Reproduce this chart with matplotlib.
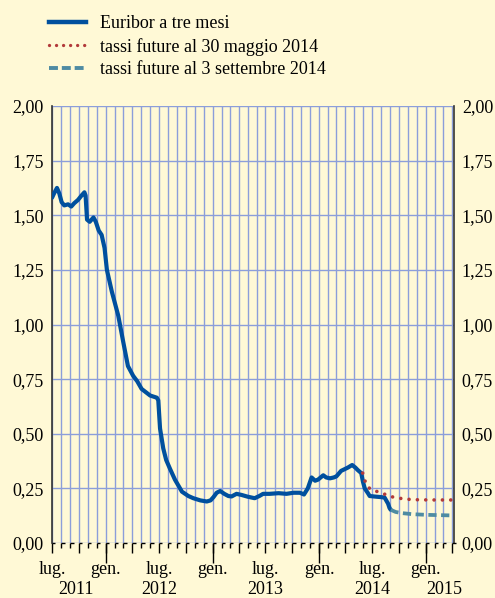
import matplotlib
matplotlib.use("Agg")
import matplotlib.pyplot as plt
import matplotlib.dates as mdates
import matplotlib.transforms as mtrans
from matplotlib.lines import Line2D
import numpy as np
import datetime as dt

# ---------------- data ----------------
euribor_dates = ["2011-07-01","2011-07-08","2011-07-18","2011-07-26","2011-08-03","2011-08-12","2011-08-25",
    "2011-09-05","2011-09-15","2011-09-28","2011-10-10","2011-10-20","2011-10-24","2011-10-29","2011-11-07",
    "2011-11-20","2011-11-28","2011-12-08","2011-12-18","2011-12-28","2012-01-05","2012-01-22","2012-02-13",
    "2012-03-01","2012-03-17","2012-04-04","2012-04-18","2012-05-03","2012-06-01","2012-06-24","2012-06-29",
    "2012-07-05","2012-07-16","2012-07-26","2012-08-08","2012-08-25","2012-09-18","2012-10-10","2012-10-27",
    "2012-11-20","2012-12-12","2012-12-25","2013-01-04","2013-01-15","2013-01-27","2013-02-10","2013-02-24",
    "2013-03-07","2013-03-24","2013-04-10","2013-05-01","2013-05-25","2013-06-10","2013-06-23","2013-07-15",
    "2013-08-15","2013-09-11","2013-10-05","2013-10-27","2013-11-10","2013-11-23","2013-12-06","2013-12-18",
    "2013-12-28","2014-01-15","2014-01-25","2014-02-07","2014-02-20","2014-03-01","2014-03-17","2014-04-09",
    "2014-04-24","2014-05-05","2014-05-13","2014-05-25","2014-05-31","2014-06-06","2014-06-17","2014-06-23",
    "2014-07-15","2014-08-01","2014-08-13","2014-08-25","2014-08-30","2014-09-03"]
euribor_values = [1.58,1.60,1.625,1.60,1.56,1.545,1.55,
    1.54,1.555,1.57,1.59,1.605,1.59,1.48,1.47,
    1.49,1.47,1.43,1.41,1.35,1.25,1.15,1.04,
    0.92,0.81,0.765,0.74,0.705,0.675,0.665,0.653,
    0.524,0.433,0.38,0.34,0.29,0.235,0.215,0.205,
    0.195,0.19,0.195,0.21,0.23,0.238,0.225,0.215,
    0.213,0.225,0.22,0.212,0.205,0.215,0.225,0.225,
    0.228,0.225,0.23,0.23,0.222,0.25,0.30,0.285,
    0.29,0.31,0.30,0.296,0.30,0.305,0.33,0.345,
    0.357,0.345,0.334,0.32,0.28,0.25,0.228,0.215,
    0.212,0.21,0.208,0.18,0.16,0.152]

fut_may_dates = ["2014-05-30","2014-06-08","2014-06-18","2014-07-01","2014-07-20","2014-08-10","2014-09-05",
    "2014-10-01","2014-11-01","2014-12-01","2015-01-15","2015-04-05"]
fut_may_values = [0.32,0.28,0.255,0.242,0.235,0.225,0.212,0.205,0.20,0.198,0.197,0.197]

fut_sep_dates = ["2014-09-03","2014-09-20","2014-10-10","2014-11-15","2015-01-01","2015-04-05"]
fut_sep_values = [0.152,0.142,0.137,0.132,0.129,0.126]

series_labels = ["Euribor a tre mesi", "tassi future al 30 maggio 2014", "tassi future al 3 settembre 2014"]
y_ticks = [0.0, 0.25, 0.5, 0.75, 1.0, 1.25, 1.5, 1.75, 2.0]
month_names = {1: "gen.", 7: "lug."}
year_labels = ["2011", "2012", "2013", "2014", "2015"]
year_label_dates = ["2011-09-21", "2012-07-01", "2013-07-01", "2014-07-01", "2015-03-05"]

# ---------------- style ----------------
BG = "#FFF9D6"
GRID = "#8C9EDA"
BLUE = "#00509E"
RED = "#B23A3A"
TEAL = "#4E8BA3"
FONT = "Liberation Serif"
FS = 13

plt.rcParams["font.family"] = [FONT, "DejaVu Serif"]

def todate(s):
    return dt.datetime.strptime(s, "%Y-%m-%d")

W, H = 495, 598
fig = plt.figure(figsize=(W / 100, H / 100), dpi=100, facecolor=BG)
ax = fig.add_axes([52 / W, (H - 543) / H, (453.5 - 52) / W, (543 - 106) / H], facecolor=BG)

x0 = dt.datetime(2011, 7, 1)
x1 = dt.datetime(2015, 4, 6)
ax.set_xlim(x0, x1)
ax.set_ylim(0, 2.0)

# grid: monthly verticals, 0.25 horizontals
ax.xaxis.set_minor_locator(mdates.MonthLocator())
ax.xaxis.set_major_locator(mdates.MonthLocator(bymonth=[1, 4, 7, 10]))
ax.grid(True, which="both", axis="x", color=GRID, lw=1.0, zorder=0)
ax.set_yticks(y_ticks)
ax.grid(True, which="major", axis="y", color=GRID, lw=1.0, zorder=0)
ax.set_axisbelow(True)

def fmt(x, pos=None):
    d = mdates.num2date(x)
    return month_names.get(d.month, "")
ax.xaxis.set_major_formatter(plt.FuncFormatter(fmt))
ax.tick_params(axis="x", which="major", length=7.2, width=1.0, color="black", pad=5.5,
               labelsize=FS, direction="out")
ax.tick_params(axis="x", which="minor", length=3.6, width=1.0, color="black", direction="out")

ylab = [f"{v:.2f}".replace(".", ",") for v in y_ticks]
ax.set_yticklabels(ylab)
ax.tick_params(axis="y", length=0, labelsize=FS, pad=6, labelright=True, labelleft=True)

for s in ["left", "right"]:
    ax.spines[s].set_color("#333333")
    ax.spines[s].set_linewidth(1.2)
ax.spines["top"].set_visible(False)
ax.spines["bottom"].set_visible(False)

# January long ticks
sec = ax.secondary_xaxis("bottom")
sec.xaxis.set_major_locator(mdates.MonthLocator(bymonth=[1]))
sec.xaxis.set_major_formatter(plt.NullFormatter())
sec.tick_params(length=14.5, width=1.0, color="black")
sec.spines["bottom"].set_visible(False)

# hooks at month ticks
trans_hook = mtrans.blended_transform_factory(ax.transData, ax.transAxes)
months = mdates.drange(x0, x1, dt.timedelta(days=1))
month_starts = [mdates.num2date(m) for m in months if mdates.num2date(m).day == 1]
hook_dx = 3.5 * 30.44 / 8.89  # ~3.5 px in days
for m in month_starts:
    mn = mdates.date2num(m)
    ax.plot([mn, mn + hook_dx], [0, 0], color="black", lw=1.0, transform=trans_hook,
            clip_on=False, zorder=3, solid_capstyle="butt")

# lines
ed = [todate(d) for d in euribor_dates]
ax.plot(ed, euribor_values, color=BLUE, lw=3.0, solid_joinstyle="round", solid_capstyle="round", zorder=4)
md = [todate(d) for d in fut_may_dates]
ax.plot(md, fut_may_values, color=RED, lw=2.6, linestyle=(0, (0.01, 2.3)), dash_capstyle="round", zorder=5)
sd = [todate(d) for d in fut_sep_dates]
ax.plot(sd, fut_sep_values, color=TEAL, lw=2.7, linestyle=(0, (2.2, 1.2)), dash_capstyle="butt", zorder=5)

# year labels
ytrans = mtrans.blended_transform_factory(ax.transData, fig.transFigure)
for lab, d in zip(year_labels, year_label_dates):
    ax.text(todate(d), 1 - 590 / H, lab, transform=ytrans, ha="center", va="center", fontsize=FS)

# legend
handles = [Line2D([], [], color=BLUE, lw=3.2),
           Line2D([], [], color=RED, lw=2.4, linestyle=(0, (0.01, 2.1)), dash_capstyle="round"),
           Line2D([], [], color=TEAL, lw=2.8, linestyle=(0, (2.3, 1.0)))]
leg = fig.legend(handles, series_labels, loc="upper left", bbox_to_anchor=(44 / W, 1 - 10 / H),
                 frameon=False, fontsize=FS, handlelength=2.0, handletextpad=0.8, labelspacing=0.3,
                 borderaxespad=0, borderpad=0.3)

fig.savefig("out.png", dpi=100, facecolor=BG)
